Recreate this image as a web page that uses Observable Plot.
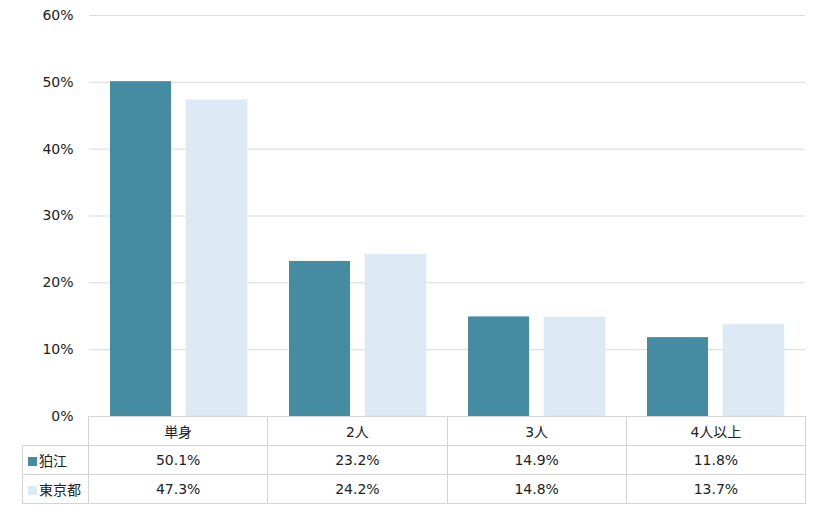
<!DOCTYPE html>
<html>
<head>
<meta charset="utf-8">
<script src="https://cdn.jsdelivr.net/npm/d3@7"></script>
<script src="https://cdn.jsdelivr.net/npm/@observablehq/plot@0.6"></script>
<style>
  body { margin: 0; background: #fff; font-family: "DejaVu Sans", "Noto Sans CJK JP", sans-serif; }
  #chart svg { display: block; }
  table.dt { border-collapse: collapse; table-layout: fixed; margin-left: 22px; margin-top: -11px; font-size: 14px; color: #222; position: relative; }
  table.dt td { border: 1px solid #d4d4d4; text-align: center; padding: 0; height: 28px; white-space: nowrap; }
  table.dt td.blank { border: none; border-bottom: 1px solid #d4d4d4; }
  table.dt td.lab { text-align: left; padding-left: 5px; }
  .sw { display: inline-block; width: 9px; height: 9px; margin-right: 2px; vertical-align: 0px; }
</style>
</head>
<body>
<div id="chart"></div>
<script>
const categories = ["単身", "2人", "3人", "4人以上"];
const seriesNames = ["狛江", "東京都"];
const komae = [50.1, 23.2, 14.9, 11.8];
const tokyo = [47.3, 24.2, 14.8, 13.7];
const yTicks = [0, 10, 20, 30, 40, 50, 60];
const colors = ["#458ba2", "#dde9f5"];

const seriesValues = [komae, tokyo];
const rows = [];
seriesNames.forEach((s, si) => categories.forEach((c, ci) => rows.push({cat: c, series: s, value: seriesValues[si][ci]})));

const width = 820, marginLeft = 88, marginRight = 15;
const chart = Plot.plot({
  width, height: 427,
  marginLeft, marginRight, marginTop: 15, marginBottom: 11,
  style: {fontFamily: '"DejaVu Sans", "Noto Sans CJK JP", sans-serif', fontSize: "14px", color: "#222", background: "transparent"},
  fx: {domain: categories, padding: 0, axis: null, label: null},
  x: {domain: seriesNames, paddingInner: 0.2, paddingOuter: 0.27, axis: null},
  y: {domain: [0, 60], label: null, axis: null},
  color: {domain: seriesNames, range: colors},
  marks: [
    Plot.ruleY(yTicks, {stroke: "#d9d9d9", strokeWidth: 1}),
    Plot.axisY(yTicks, {tickFormat: d => d + "%", tickSize: 0, tickPadding: 16, fontSize: 14, label: null}),
    Plot.barY(rows, {fx: "cat", x: "series", y: "value", fill: "series"}),
    Plot.barY(rows.filter(d => d.series === seriesNames[1]), {fx: "cat", x: "series", y: "value", fill: "none", stroke: "#cfdcea", strokeWidth: 0.6, strokeDasharray: "2,2"})
  ]
});
document.getElementById("chart").appendChild(chart);

// data table below, columns aligned to the category bands
const plotW = width - marginLeft - marginRight;
const colW = plotW / categories.length;
const table = document.createElement("table");
table.className = "dt";
table.style.width = (marginLeft - 22 + plotW) + "px";
let html = `<colgroup><col style="width:${marginLeft - 22}px">` + categories.map(() => `<col style="width:${colW}px">`).join("") + `</colgroup>`;
html += `<tr><td class="blank"></td>` + categories.map(c => `<td>${c}</td>`).join("") + `</tr>`;
seriesNames.forEach((s, si) => {
  html += `<tr><td class="lab"><span class="sw" style="background:${colors[si]}"></span>${s}</td>` +
    seriesValues[si].map(v => `<td>${v.toFixed(1)}%</td>`).join("") + `</tr>`;
});
table.innerHTML = html;
document.getElementById("chart").appendChild(table);
</script>
</body>
</html>
